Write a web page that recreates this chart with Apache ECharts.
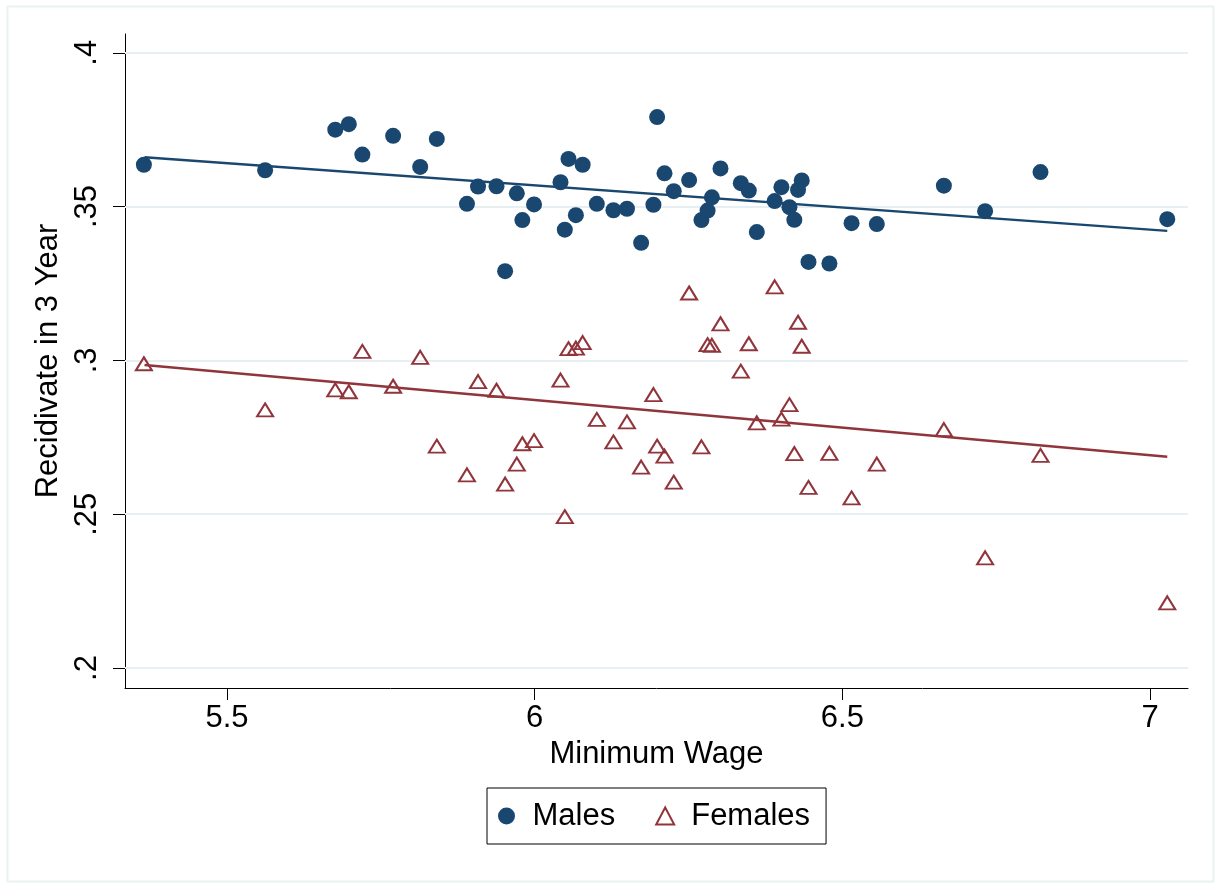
<!DOCTYPE html>
<html>
<head>
<meta charset="utf-8">
<script src="https://cdn.jsdelivr.net/npm/echarts@6/dist/echarts.min.js"></script>
<style>
html,body{margin:0;padding:0;background:#fff;}
#chart{width:1215px;height:883px;}
</style>
</head>
<body>
<div id="chart"></div>
<script>
// Minimum wage (x) shared by both groups
var minWage = [5.365,5.562,5.676,5.698,5.720,5.770,5.814,5.841,5.890,5.908,
  5.938,5.952,5.971,5.980,5.999,6.042,6.049,6.055,6.067,6.078,
  6.101,6.128,6.150,6.173,6.193,6.199,6.211,6.226,6.251,6.271,
  6.281,6.288,6.302,6.335,6.348,6.361,6.390,6.401,6.414,6.422,
  6.428,6.434,6.445,6.479,6.515,6.556,6.665,6.732,6.822,7.028];
var males = [0.3636,0.3618,0.3750,0.3768,0.3669,0.3730,0.3629,0.3720,0.3509,0.3565,
  0.3566,0.3290,0.3543,0.3456,0.3507,0.3579,0.3425,0.3655,0.3472,0.3636,
  0.3509,0.3488,0.3493,0.3382,0.3506,0.3791,0.3608,0.3550,0.3586,0.3456,
  0.3487,0.3530,0.3624,0.3576,0.3552,0.3417,0.3518,0.3563,0.3498,0.3457,
  0.3554,0.3585,0.3320,0.3315,0.3446,0.3443,0.3568,0.3485,0.3612,0.3459];
var females = [0.2989,0.2839,0.2904,0.2898,0.3029,0.2916,0.3010,0.2721,0.2628,0.2931,
  0.2903,0.2598,0.2663,0.2729,0.2739,0.2936,0.2492,0.3038,0.3040,0.3058,
  0.2808,0.2735,0.2800,0.2653,0.2889,0.2721,0.2689,0.2604,0.3219,0.2719,
  0.3051,0.3049,0.3119,0.2965,0.3054,0.2797,0.3239,0.2809,0.2856,0.2697,
  0.3124,0.3046,0.2587,0.2698,0.2553,0.2663,0.2775,0.2358,0.2691,0.2212];
// Fitted lines (endpoints)
var fitX = [5.366, 7.028];
var maleFit = [0.3660, 0.3421];
var femaleFit = [0.2985, 0.2687];
// Tick labels
var xTicks = [5.5, 6, 6.5, 7];
var yTicks = [0.2, 0.25, 0.3, 0.35, 0.4];

var NAVY = '#1a476f', MAROON = '#90353b', GRID = '#e8eff2';
var FONT = '"Liberation Sans", Arial, sans-serif';
var FS = 31;

function pairs(xs, ys){ return xs.map(function(x,i){ return [x, ys[i]]; }); }

var chart = echarts.init(document.getElementById('chart'), null, {renderer:'canvas'});
chart.setOption({
  animation: false,
  backgroundColor: '#fff',
  textStyle: {fontFamily: FONT},
  graphic: [{
    type: 'rect', left: 5, top: 4, silent: true, z: -10,
    shape: {width: 1206, height: 875},
    style: {fill: 'none', stroke: '#eaf1f3', lineWidth: 2}
  }],
  grid: {left: 125, top: 34, width: 1063, height: 654, containLabel: false},
  xAxis: {
    type: 'value', min: 5.3343, max: 7.0617,
    name: 'Minimum Wage', nameLocation: 'middle', nameGap: 48,
    nameTextStyle: {fontSize: FS, color: '#000', fontFamily: FONT},
    axisLine: {show: true, onZero: false, lineStyle: {color: '#000', width: 1}},
    axisTick: {show: true, length: 12, customValues: xTicks, lineStyle: {color: '#000', width: 1}},
    axisLabel: {customValues: xTicks, fontSize: FS, color: '#000', margin: 15, fontFamily: FONT,
      formatter: function(v){ return String(v); }},
    splitLine: {show: false}
  },
  yAxis: {
    type: 'value', min: 0.1935, max: 0.4061,
    name: 'Recidivate in 3 Year', nameLocation: 'middle', nameGap: 54,
    nameTextStyle: {fontSize: FS, color: '#000', fontFamily: FONT},
    axisLine: {show: true, onZero: false, lineStyle: {color: '#000', width: 1}},
    axisTick: {show: true, length: 12, customValues: yTicks, lineStyle: {color: '#000', width: 1}},
    axisLabel: {customValues: yTicks, rotate: 90, fontSize: FS, color: '#000', margin: 22, fontFamily: FONT,
      formatter: function(v){ return String(+v.toFixed(2)).replace(/^0/, ''); }},
    splitLine: {show: false}
  },
  legend: {
    data: ['Males', 'Females'],
    left: 487, top: 788,
    orient: 'horizontal',
    padding: [12, 16, 12, 11],
    itemWidth: 18, itemHeight: 17, itemGap: 40,
    borderColor: '#000', borderWidth: 1, borderRadius: 0,
    textStyle: {fontSize: FS, color: '#000', fontFamily: FONT, lineHeight: 32, padding: [0, 0, 0, 12]}
  },
  series: [
    {
      name: 'Males', type: 'scatter', symbol: 'circle', symbolSize: 16,
      itemStyle: {color: NAVY, opacity: 1},
      data: pairs(minWage, males), z: 3,
      markLine: {
        silent: true, symbol: ['none', 'none'], z: 1,
        label: {show: false},
        lineStyle: {color: GRID, width: 2, type: 'solid'},
        emphasis: {disabled: true},
        data: yTicks.map(function(t){ return {yAxis: t}; })
      }
    },
    {
      name: 'Females', type: 'scatter', symbol: 'triangle', symbolSize: [16, 13],
      itemStyle: {color: 'rgba(0,0,0,0)', borderColor: MAROON, borderWidth: 2, opacity: 1},
      data: pairs(minWage, females), z: 3
    },
    {
      name: 'Males fit', type: 'line', showSymbol: false, symbol: 'none',
      lineStyle: {color: NAVY, width: 2.5}, data: pairs(fitX, maleFit), z: 4
    },
    {
      name: 'Females fit', type: 'line', showSymbol: false, symbol: 'none',
      lineStyle: {color: MAROON, width: 2.5}, data: pairs(fitX, femaleFit), z: 4
    }
  ]
});
</script>
</body>
</html>
